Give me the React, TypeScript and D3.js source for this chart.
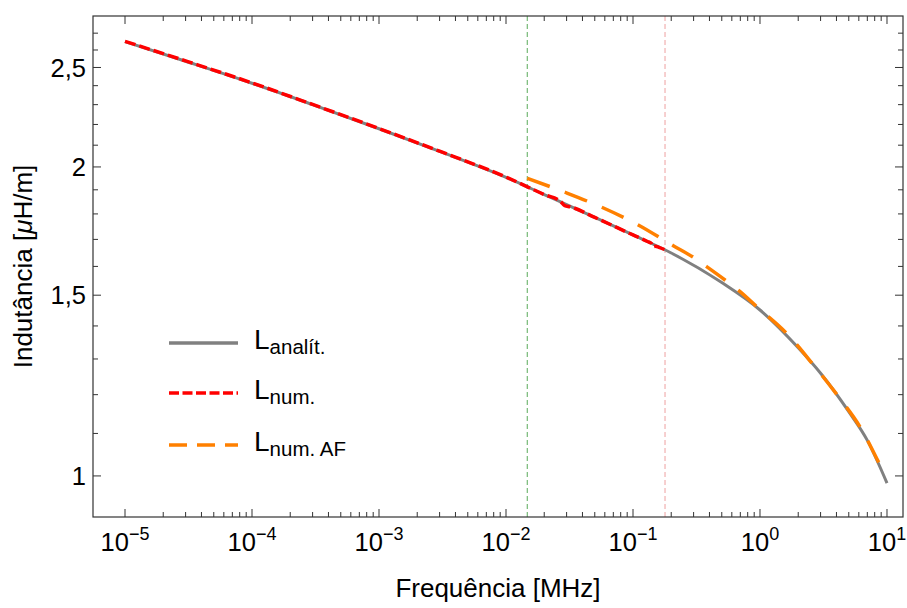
import * as d3 from 'd3'

// frequency in MHz, inductance in uH/m
const FREQ_ANALYTIC = [1e-5, 3e-5, 1e-4, 3e-4, 1e-3, 3e-3, 1e-2, 2e-2, 5e-2, 1e-1, 2e-1, 5e-1, 1, 2, 3, 5, 7, 10]
const L_ANALYTIC = [2.649, 2.535, 2.413, 2.3, 2.179, 2.071, 1.954, 1.88, 1.786, 1.717, 1.649, 1.543, 1.451, 1.333, 1.259, 1.155, 1.083, 0.984]

const FREQ_NUM = [1e-5, 3e-5, 1e-4, 3e-4, 1e-3, 3e-3, 1e-2, 2e-2, 2.7e-2, 2.9e-2, 3.2e-2, 5e-2, 1e-1, 1.3e-1, 1.4e-1, 1.43e-1, 1.5e-1, 1.6e-1, 1.787e-1]
const L_NUM = [2.651, 2.537, 2.415, 2.301, 2.18, 2.072, 1.955, 1.88, 1.85, 1.834, 1.829, 1.786, 1.717, 1.692, 1.684, 1.672, 1.674, 1.67, 1.661]

const FREQ_AF = [0.0147, 0.0283, 0.0568, 0.11, 0.2076, 0.2985, 0.38, 0.53, 0.697, 0.942, 1.62, 2.63, 4.14, 6.33, 8.81, 9.6]
const L_AF = [1.95, 1.892, 1.827, 1.756, 1.676, 1.633, 1.599, 1.552, 1.512, 1.462, 1.377, 1.283, 1.195, 1.109, 1.025, 1.004]

const F_LOW = 0.0147   // green marker
const F_HIGH = 0.1787  // pink marker

const X_EXPONENTS = [-5, -4, -3, -2, -1, 0, 1]
const Y_MAJOR = [1, 1.5, 2, 2.5]
const Y_LABELS = ['1', '1,5', '2', '2,5']
const Y_MINOR = [1.1, 1.2, 1.3, 1.4, 1.6, 1.7, 1.8, 1.9, 2.1, 2.2, 2.3, 2.4, 2.6, 2.7]

const LEGEND = [
  { sub: 'analít.', color: '#808080', dash: null },
  { sub: 'num.', color: '#ff0000', dash: '10,3.5' },
  { sub: 'num. AF', color: '#ff8000', dash: '18,10' },
]

const W = 907
const H = 608
const m = { left: 93, right: 4, top: 16, bottom: 91 }
const FONT = 'Liberation Sans, Arial, sans-serif'

export default function App() {
  const x = d3.scaleLog().domain([Math.pow(10, -5.252), Math.pow(10, 1.126)]).range([m.left, W - m.right])
  const y = d3.scaleLog().domain([0.912, 2.806]).range([H - m.bottom, m.top])

  const x0 = m.left, x1 = W - m.right, y0 = H - m.bottom, y1 = m.top

  const line = d3.line<[number, number]>()
    .x(d => x(d[0]))
    .y(d => y(d[1]))
    .curve(d3.curveMonotoneX)

  const analytic = FREQ_ANALYTIC.map((f, i) => [f, L_ANALYTIC[i]] as [number, number])
  const num = FREQ_NUM.map((f, i) => [f, L_NUM[i]] as [number, number])
  const af = FREQ_AF.map((f, i) => [f, L_AF[i]] as [number, number])

  const xMinor: number[] = []
  X_EXPONENTS.slice(0, -1).forEach(e => {
    for (let k = 2; k <= 9; k++) xMinor.push(k * Math.pow(10, e))
  })

  const tickColor = '#333'

  return (
    <div style={{ position: 'absolute', left: 0, top: 0 }}>
      <svg width={W} height={H} style={{ display: 'block', background: '#fff' }} fontFamily={FONT}>
        {/* vertical markers */}
        <line x1={x(F_LOW)} x2={x(F_LOW)} y1={y1} y2={y0} stroke="#5aaa5a" strokeWidth={1} strokeDasharray="5,3" />
        <line x1={x(F_HIGH)} x2={x(F_HIGH)} y1={y1} y2={y0} stroke="#eea0a0" strokeWidth={1} strokeDasharray="5,3" />

        {/* curves */}
        <path d={line(analytic) ?? ''} fill="none" stroke="#808080" strokeWidth={3} />
        <path d={line(num) ?? ''} fill="none" stroke="#ff0000" strokeWidth={3.5} strokeDasharray="11,4" />
        <path d={line(af) ?? ''} fill="none" stroke="#ff8000" strokeWidth={3.5} strokeDasharray="24,16" />

        {/* frame */}
        <rect x={x0} y={y1} width={x1 - x0} height={y0 - y1} fill="none" stroke={tickColor} strokeWidth={1.2} />

        {/* x ticks */}
        {X_EXPONENTS.map(e => {
          const px = x(Math.pow(10, e))
          return (
            <g key={'xt' + e}>
              <line x1={px} x2={px} y1={y0} y2={y0 - 8} stroke={tickColor} />
              <line x1={px} x2={px} y1={y1} y2={y1 + 8} stroke={tickColor} />
              <text x={px} y={551} textAnchor="middle" fontSize={25.5} fill="#000">
                10<tspan dy={-11} fontSize={18}>{e < 0 ? '\u2212' + -e : String(e)}</tspan>
              </text>
            </g>
          )
        })}
        {xMinor.map((f, i) => (
          <g key={'xm' + i}>
            <line x1={x(f)} x2={x(f)} y1={y0} y2={y0 - 5} stroke={tickColor} />
            <line x1={x(f)} x2={x(f)} y1={y1} y2={y1 + 5} stroke={tickColor} />
          </g>
        ))}

        {/* y ticks */}
        {Y_MAJOR.map((v, i) => (
          <g key={'yt' + v}>
            <line x1={x0} x2={x0 + 8} y1={y(v)} y2={y(v)} stroke={tickColor} />
            <line x1={x1} x2={x1 - 8} y1={y(v)} y2={y(v)} stroke={tickColor} />
            <text x={86} y={y(v)} dy="0.36em" textAnchor="end" fontSize={25.5} fill="#000">{Y_LABELS[i]}</text>
          </g>
        ))}
        {Y_MINOR.map(v => (
          <g key={'ym' + v}>
            <line x1={x0} x2={x0 + 5} y1={y(v)} y2={y(v)} stroke={tickColor} />
            <line x1={x1} x2={x1 - 5} y1={y(v)} y2={y(v)} stroke={tickColor} />
          </g>
        ))}

        {/* axis titles */}
        <text x={(x0 + x1) / 2} y={597} textAnchor="middle" fontSize={26} fill="#000">Frequência [MHz]</text>
        <text transform={`translate(32,${(y0 + y1) / 2}) rotate(-90)`} textAnchor="middle" fontSize={26} fill="#000">
          Indutância [<tspan fontStyle="italic">μ</tspan>H/m]
        </text>

        {/* legend */}
        {LEGEND.map((d, i) => {
          const ly = [343, 393, 445][i]
          return (
            <g key={d.sub}>
              <line x1={169} x2={238} y1={ly} y2={ly} stroke={d.color} strokeWidth={3.5}
                strokeDasharray={d.dash ?? undefined} />
              <text x={254} y={ly + 6} fontSize={28} fill="#000">
                L<tspan dy={5} fontSize={20.5}>{d.sub}</tspan>
              </text>
            </g>
          )
        })}
      </svg>
    </div>
  )
}
